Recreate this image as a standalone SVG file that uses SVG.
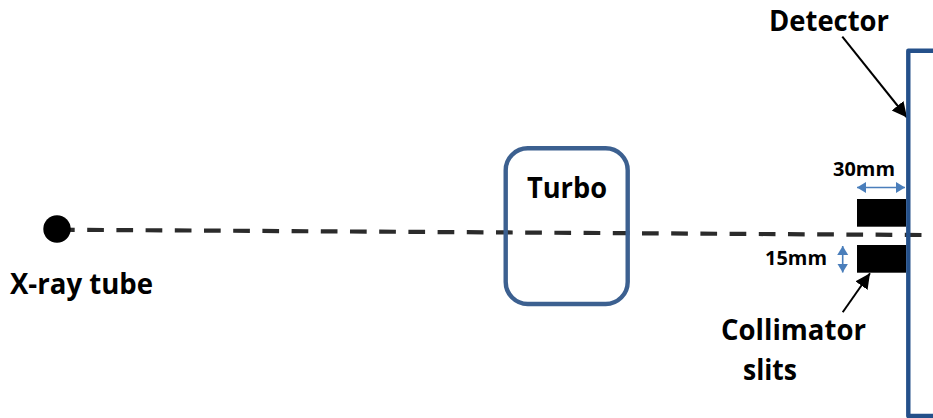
<svg xmlns="http://www.w3.org/2000/svg" width="933" height="418" viewBox="0 0 933 418">
<style>
text{font-family:"Open Sans","Noto Sans","Liberation Sans",sans-serif;font-weight:700;fill:#000}
.big{font-size:28.5px}
.small{font-size:20px}
.body{fill:none;stroke-width:4.4}
.bl{stroke:#000;stroke-width:2;fill:none}
.dim{stroke:#4a7ebb;stroke-width:1.6;fill:none}
</style>
<defs>
<marker id="blk" markerUnits="userSpaceOnUse" markerWidth="18" markerHeight="16" refX="15" refY="7.5" orient="auto"><path d="M0 0L15 7.5L0 15Z" fill="#000"/></marker>
<marker id="blu" markerUnits="userSpaceOnUse" markerWidth="10" markerHeight="12" refX="9" refY="5.5" orient="auto-start-reverse"><path d="M0 0L9 5.5L0 11Z" fill="#4a7ebb"/></marker>
</defs>
<rect x="0" y="0" width="933" height="418" fill="#fff"/>
<g id="connectors">
<path d="M58 229.7L923 235" fill="none" stroke="#2b2b2b" stroke-width="4.2" stroke-dasharray="16.7 12.5"/>
<path class="bl" d="M842.3 36.7L907 117.5" marker-end="url(#blk)"/>
<path class="bl" d="M842.7 312.3L870 273.3" marker-end="url(#blk)"/>
<path class="dim" d="M857 187.5H905" marker-start="url(#blu)" marker-end="url(#blu)"/>
<path class="dim" d="M842.7 246V272.5" marker-start="url(#blu)" marker-end="url(#blu)"/>
</g>
<g id="xray-tube"><circle cx="57" cy="229" r="13.7" fill="#000"/><text class="big" x="10" y="294" textLength="143" lengthAdjust="spacingAndGlyphs">X-ray tube</text></g>
<g id="turbo"><rect class="body" x="505.7" y="148.3" width="122" height="155.7" rx="22" stroke="#3c6090"/><text class="big" x="527" y="198" textLength="80" lengthAdjust="spacingAndGlyphs">Turbo</text></g>
<g id="detector"><path class="body" d="M940 50.7H908.3V416H940" stroke="#24508a" stroke-linejoin="round"/><text class="big" x="769" y="31" textLength="120" lengthAdjust="spacingAndGlyphs">Detector</text></g>
<g id="collimator"><rect x="857" y="199" width="49" height="27.7" fill="#000"/><rect x="857" y="245" width="49" height="27.7" fill="#000"/><text class="big" x="721" y="340" textLength="145" lengthAdjust="spacingAndGlyphs">Collimator</text><text class="big" x="743" y="380" textLength="54" lengthAdjust="spacingAndGlyphs">slits</text></g>
<g id="dimension-labels"><text class="small" x="833" y="176" textLength="62" lengthAdjust="spacingAndGlyphs">30mm</text><text class="small" x="765" y="265" textLength="62" lengthAdjust="spacingAndGlyphs">15mm</text></g>
</svg>
